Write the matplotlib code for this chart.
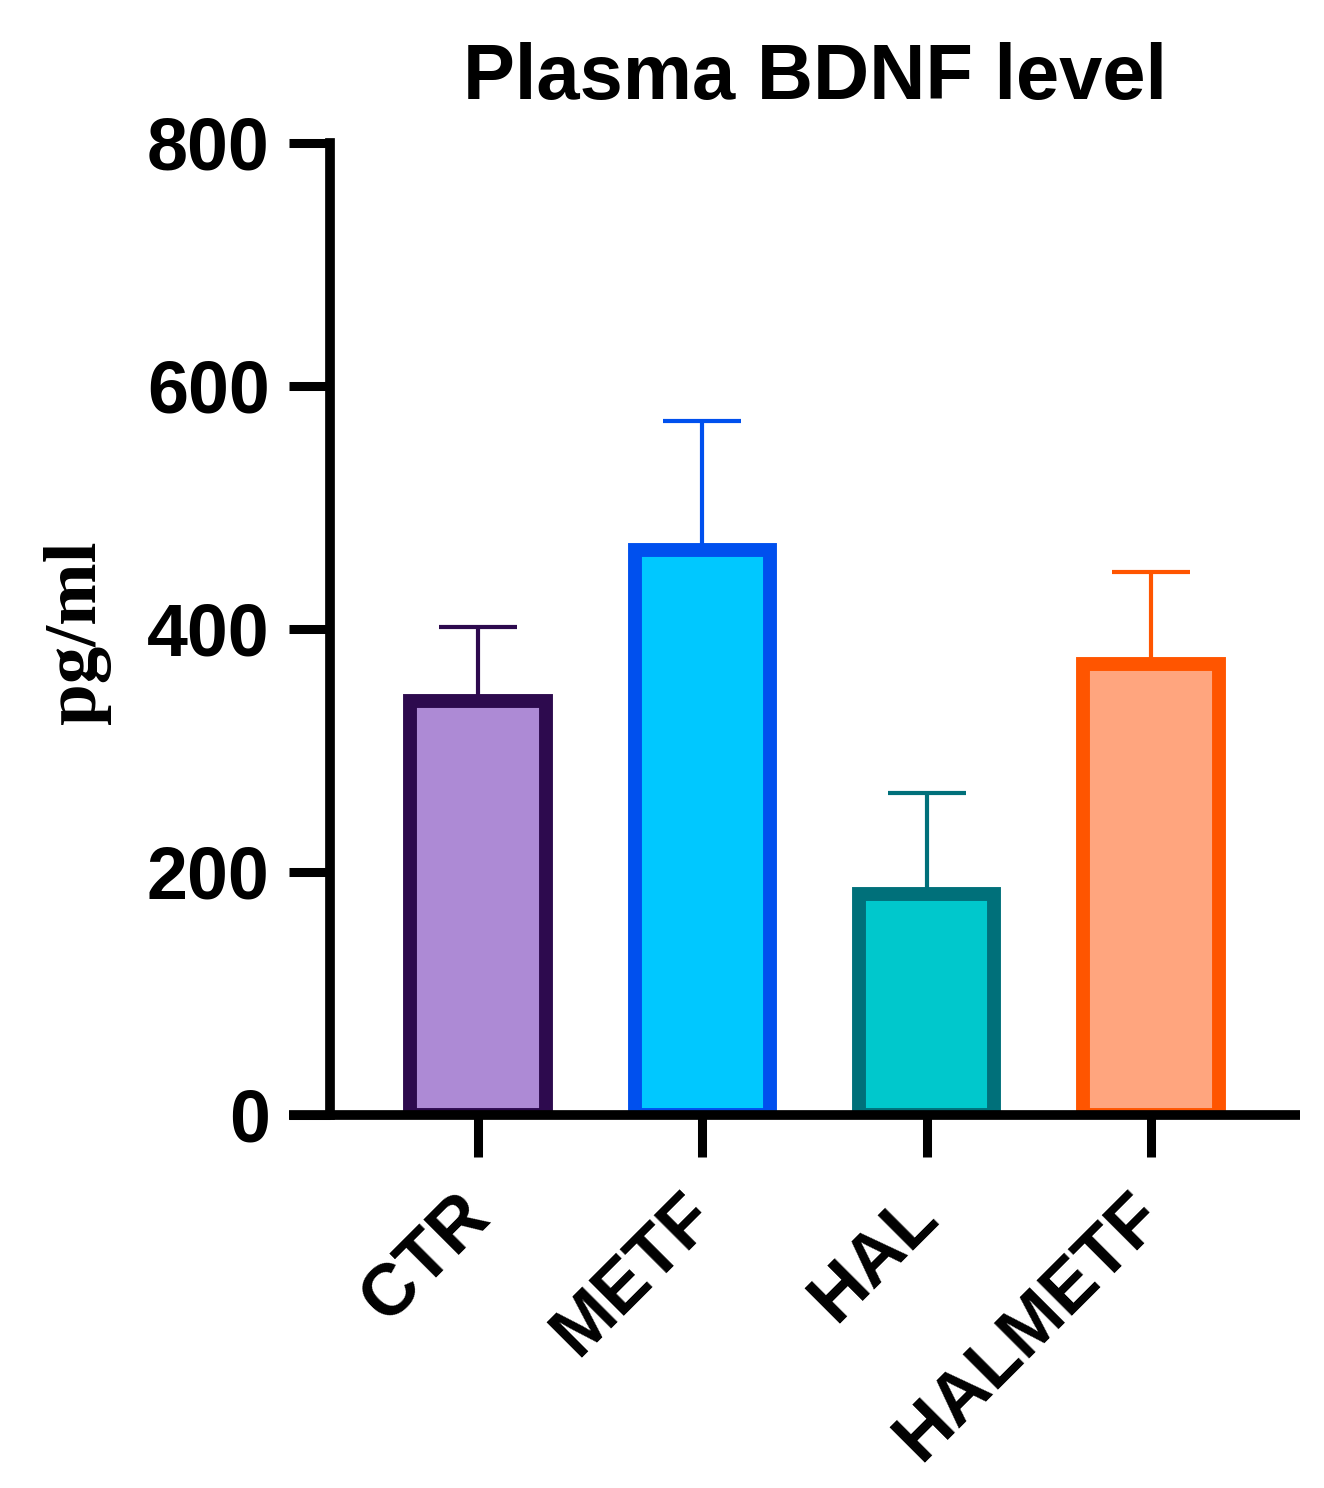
import matplotlib
matplotlib.use("Agg")
import matplotlib.pyplot as plt
import numpy as np

# values
groups = ["CTR", "METF", "HAL", "HALMETF"]
means = [341, 465, 182, 371]
errs = [61, 106, 83, 76]
fill_colors = ["#AD8AD5", "#00C8FF", "#00C8CC", "#FFA57E"]
edge_colors = ["#2D0A4E", "#0050EE", "#00707A", "#FF5500"]
yticks = [0, 200, 400, 600, 800]

DPI = 100
fig = plt.figure(figsize=(13.24, 14.88), dpi=DPI)
ax = fig.add_axes([0.2492, 0.2507, 0.7327, 0.6532])

x = np.arange(len(groups))

for xi, m, e, c in zip(x, means, errs, edge_colors):
    ax.errorbar(xi, m, yerr=[[0], [e]], fmt="none", ecolor=c,
                elinewidth=3, capsize=28, capthick=3, zorder=1)
ax.bar(x, means, width=0.603, color=fill_colors, edgecolor=edge_colors,
       linewidth=10, zorder=2)

ax.set_xlim(-0.66, 3.665)
ax.set_ylim(0, 800)
ax.set_yticks(yticks)
ax.set_xticks(x)

for side in ["top", "right"]:
    ax.spines[side].set_visible(False)
ax.spines["left"].set_linewidth(7)
ax.spines["bottom"].set_visible(False)
# x axis line runs out to the end of the y ticks
ax.plot([-41 / 970, 1], [0, 0], transform=ax.transAxes, color="black",
        lw=7, clip_on=False, solid_capstyle="butt", zorder=5)

ax.tick_params(axis="y", length=29.5, width=6.5, pad=14)
ax.tick_params(axis="x", length=30, width=6.5, pad=35)

ax.set_yticklabels([str(v) for v in yticks], fontsize=53,
                   fontweight="bold", family="Liberation Sans")
ax.set_xticklabels(groups, fontsize=52, fontweight="bold",
                   family="Liberation Sans", rotation=45, ha="right",
                   va="center", rotation_mode="anchor")

ax.set_title("Plasma BDNF level", fontsize=56, fontweight="bold",
             family="Liberation Sans", pad=32)

fig.text(77 / 1324, 1 - 632 / 1488, "pg/ml", rotation=90, ha="center",
         va="center", fontsize=54, fontweight="bold",
         family="Liberation Serif")

fig.savefig("out.png", dpi=DPI)
